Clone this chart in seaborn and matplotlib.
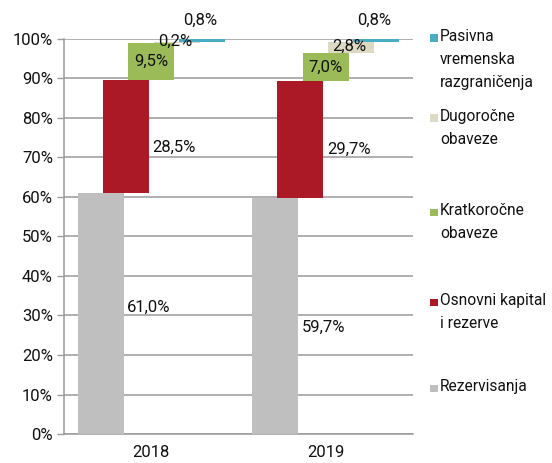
"""
plot.py

Floating stacked bars (liabilities structure) for 2018 and 2019,
each segment shifted right of the previous one, with a side legend.
"""

import matplotlib.pyplot as plt
import matplotlib.patches as mpatches
import seaborn as sns

# Data: share of each item in total liabilities (%)
YEARS: list[str] = ["2018", "2019"]
SEGMENTS: list[str] = [
    "Rezervisanja",
    "Osnovni kapital\ni rezerve",
    "Kratkoročne\nobaveze",
    "Dugoročne\nobaveze",
    "Pasivna\nvremenska\nrazgraničenja",
]
REZERVISANJA: list[float] = [61.0, 59.7]
OSNOVNI_KAPITAL: list[float] = [28.5, 29.7]
KRATKOROCNE: list[float] = [9.5, 7.0]
DUGOROCNE: list[float] = [0.2, 2.8]
PASIVNA: list[float] = [0.8, 0.8]

SERIES: list[list[float]] = [REZERVISANJA, OSNOVNI_KAPITAL, KRATKOROCNE, DUGOROCNE, PASIVNA]
COLORS: list[str] = ["#BFBFBF", "#AB1927", "#9BBB59", "#DDD9C3", "#4BACC6"]

# Layout
STEP = 0.145          # horizontal shift between segments
BAR_WIDTH = 0.264
FONT = ["Roboto", "DejaVu Sans"]
TXT = "#111111"
GRID = "#9a9a9a"

sns.set_style("white")
plt.rcParams["font.family"] = FONT
plt.rcParams["font.size"] = 12


def fmt(v: float) -> str:
    return f"{v:.1f}%".replace(".", ",")


def main() -> None:
    fig = plt.figure(figsize=(5.52, 4.63), dpi=100)
    ax = fig.add_axes([0.116, 0.0626, 0.632, 0.8534])

    bottoms = [0.0] * len(YEARS)
    for k, (vals, color) in enumerate(zip(SERIES, COLORS)):
        off = (k - 2) * STEP
        xpos = [i + off for i in range(len(YEARS))]
        sns.barplot(
            x=xpos, y=vals, native_scale=True, orient="x", width=BAR_WIDTH,
            color=color, saturation=1, errorbar=None, bottom=list(bottoms),
            linewidth=0, ax=ax, zorder=3,
        )
        for i, v in enumerate(vals):
            b = bottoms[i]
            if k == 0:
                ax.text(xpos[i] + BAR_WIDTH / 2 + 0.02, b + v / 2 + (1.5 if i == 0 else -2.8),
                        fmt(v), ha="left", va="center", color=TXT, zorder=5)
            elif k == 1:
                ax.text(xpos[i] + BAR_WIDTH / 2 + 0.02, b + v / 2 - 2.6,
                        fmt(v), ha="left", va="center", color=TXT, zorder=5)
            elif k == 2:
                ax.text(xpos[i], b + v / 2, fmt(v), ha="center", va="center",
                        color=TXT, zorder=5)
            elif k == 3:
                ax.text(xpos[i] - 0.01, b + v / 2 + 0.4, fmt(v), ha="center",
                        va="center", color=TXT, zorder=5, clip_on=False)
            else:
                ax.text(xpos[i] - 0.01, b + v + 4.8, fmt(v), ha="center",
                        va="center", color=TXT, zorder=5, clip_on=False)
            bottoms[i] = b + v

    # Axes styling
    ax.set_xlim(-0.5, 1.5)
    ax.set_ylim(0, 100)
    ax.set_yticks(range(0, 101, 10))
    ax.set_yticklabels([f"{t}%" for t in range(0, 101, 10)], color=TXT)
    ax.set_xticks(range(len(YEARS)))
    ax.set_xticklabels(YEARS, color=TXT)
    ax.set_xticks([-0.5, 0.5, 1.5], minor=True)
    ax.tick_params(axis="x", which="major", length=0, pad=8)
    ax.tick_params(axis="x", which="minor", length=5, width=1, color=GRID)
    ax.tick_params(axis="y", length=5, width=1, color=GRID, pad=3, left=True)
    ax.set_xlabel("")
    ax.set_ylabel("")
    ax.grid(axis="y", color=GRID, linewidth=1.1, zorder=0)
    ax.set_axisbelow(True)
    for side in ["top", "right"]:
        ax.spines[side].set_visible(False)
    for side in ["left", "bottom"]:
        ax.spines[side].set_color(GRID)
        ax.spines[side].set_linewidth(1.1)

    # Legend, drawn top-down from the last segment to the first
    legend_tops = [29, 109, 203, 293, 379]   # pixel rows of first text line
    W, H = 552, 463
    for top, name, color in zip(legend_tops, reversed(SEGMENTS), reversed(COLORS)):
        fig.patches.append(mpatches.Rectangle(
            (430 / W, 1 - (top + 13) / H), 7.5 / W, 7.5 / H,
            transform=fig.transFigure, facecolor=color, edgecolor="none"))
        fig.text(440 / W, 1 - top / H, name, ha="left", va="top",
                 color=TXT, linespacing=1.65, fontsize=11.2)

    fig.savefig("out.png", dpi=100)
    plt.close(fig)


if __name__ == "__main__":
    main()
